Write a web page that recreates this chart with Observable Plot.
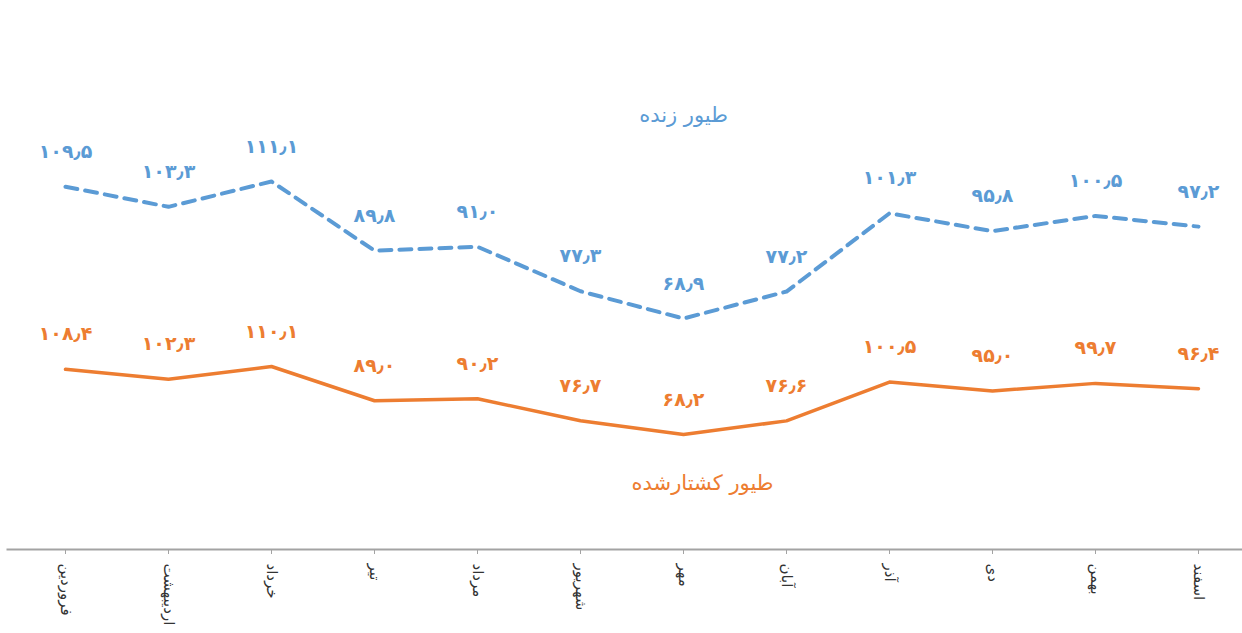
<!DOCTYPE html>
<html><head><meta charset="utf-8">
<script src="https://cdn.jsdelivr.net/npm/d3@7"></script>
<script src="https://cdn.jsdelivr.net/npm/@observablehq/plot@0.6"></script>
<style>
html,body{margin:0;padding:0;background:#fff;overflow:hidden}
#chart{position:relative;width:1242px;height:633px}
#chart svg{position:absolute;left:0;top:0}
</style></head><body><div id="chart"></div>
<script>
const months = ["فروردین","اردیبهشت","خرداد","تیر","مرداد","شهریور","مهر","آبان","آذر","دی","بهمن","اسفند"];
const liveValues = [109.5,103.3,111.1,89.8,91.0,77.3,68.9,77.2,101.3,95.8,100.5,97.2];
const slaughteredValues = [108.4,102.3,110.1,89.0,90.2,76.7,68.2,76.6,100.5,95.0,99.7,96.4];
const seriesNames = ["طیور زنده","طیور کشتارشده"];
const seriesLabelMonth = "مهر";

const faDigits = "۰۱۲۳۴۵۶۷۸۹";
const fa = v => v.toFixed(1).replace(/\d/g, d => faDigits[d]).replace(".", "٫");

const live = months.map((m, i) => ({month: m, value: liveValues[i]}));
const slaughtered = months.map((m, i) => ({month: m, value: slaughteredValues[i]}));

const W = 1242, H = 633;
const blue = "#5b9bd5", orange = "#ed7d31";
const font = "DejaVu Sans, Noto Sans, sans-serif";
const common = {
  width: W, height: H, marginLeft: 7, marginRight: 0, marginTop: 0, marginBottom: 84,
  style: {fontFamily: font, background: "transparent", overflow: "visible"}
};
const xScale = {type: "point", domain: months, range: [60, 1203], padding: 0, axis: null};

const bottomPlot = Plot.plot({
  ...common,
  x: xScale,
  y: {domain: d3.extent(slaughteredValues), range: [434, 366], axis: null},
  marks: [
    Plot.frame({anchor: "bottom", stroke: "#a3a3a3", strokeWidth: 2}),
    Plot.axisX({tickSize: 5, tickPadding: 9, tickRotate: 90, fontSize: 15, stroke: "#a3a3a3", color: "#333", label: null}),
    Plot.line(slaughtered, {x: "month", y: "value", stroke: orange, strokeWidth: 3.5}),
    Plot.text(slaughtered, {x: "month", y: "value", text: d => fa(d.value), dy: -35, fill: orange, fontSize: 19, fontWeight: "bold"}),
    Plot.text([seriesNames[1]], {x: () => seriesLabelMonth, text: d => d, frameAnchor: "bottom", lineAnchor: "middle", dy: -66, dx: 19, fill: orange, fontSize: 21})
  ]
});

const topPlot = Plot.plot({
  ...common,
  x: xScale,
  y: {domain: d3.extent(liveValues), range: [318, 181], axis: null},
  marks: [
    Plot.line(live, {x: "month", y: "value", stroke: blue, strokeWidth: 4, strokeDasharray: "12,8"}),
    Plot.text(live, {x: "month", y: "value", text: d => fa(d.value), dy: -35, fill: blue, fontSize: 19, fontWeight: "bold"}),
    Plot.text([seriesNames[0]], {x: () => seriesLabelMonth, text: d => d, frameAnchor: "top", lineAnchor: "middle", dy: 115, fill: blue, fontSize: 21})
  ]
});

const chart = document.getElementById("chart");
chart.append(bottomPlot, topPlot);
</script>
</body></html>
